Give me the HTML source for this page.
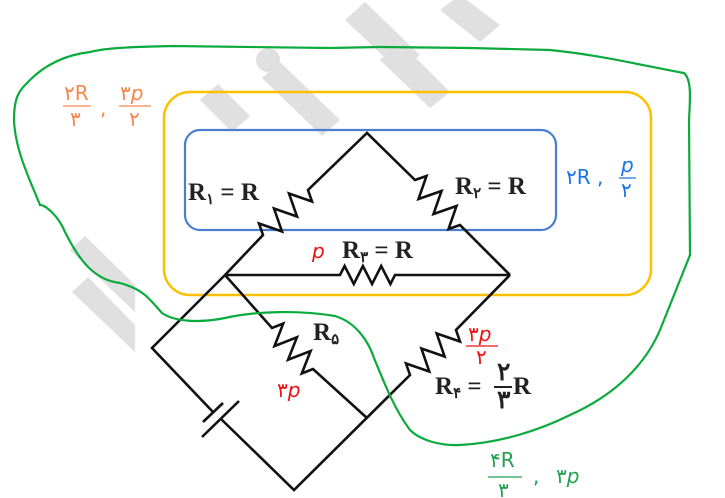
<!DOCTYPE html>
<html><head><meta charset="utf-8"><style>
html,body{margin:0;padding:0;background:#fff;}
svg{display:block;}
.c{font-family:"Liberation Serif",serif;font-weight:bold;font-size:25px;fill:#222;}
.h{font-family:"DejaVu Sans","Liberation Sans",sans-serif;font-size:20px;}
</style></head><body>
<svg width="725" height="498" viewBox="0 0 725 498" xmlns="http://www.w3.org/2000/svg">
<!-- watermark -->
<g fill="#e0e0e0">
<polygon points="262,78 280,62 340,120 322,136"/>
<circle cx="268" cy="60" r="12"/>
<polygon points="345,20 365,2 420,55 400,72"/>
<polygon points="380,60 400,42 450,92 430,108"/>
<polygon points="440,10 460,-5 500,25 480,42"/>
<polygon points="200,100 218,84 250,116 232,132"/>
<polygon points="70,250 85,236 135,285 135,312"/>
<polygon points="72,292 88,277 135,325 135,352"/>
</g>
<!-- boxes -->
<rect x="164" y="92" width="487" height="203" rx="26" fill="none" stroke="#fdbf00" stroke-width="2.5"/>
<rect x="185" y="130" width="371" height="100" rx="15" fill="none" stroke="#4a7fd0" stroke-width="2.2"/>
<!-- circuit -->
<g fill="none" stroke="#111" stroke-width="2.6" stroke-linejoin="miter">
<polyline points="225,275 263,235 259,223.5 282,231.5 274,208.5 297,216.5 289,193.5 312,201.5 308,190 367,133 415,180 426.5,176 418.5,199 441.5,191 433.5,214 456.5,206 448.5,229 460,225 510,275"/>
<polyline points="225,275 340,275 344.6,266 353.8,284 362.9,266 372.1,284 381.2,266 390.4,284 395,275 510,275"/>
<polyline points="225,275 272,328 283.2,323.6 274.5,346.1 296.9,337.3 288.1,359.7 310.6,351 301.8,373.4 313,369 367,418"/>
<polyline points="510,275 456,330 460,341.5 436.7,333.5 444.6,356.5 421.4,348.5 429.3,371.5 406,363.5 410,375 294,490 221,419"/>
<polyline points="225,275 152,348 213,412"/>
<line x1="203" y1="422" x2="223" y2="403"/>
<line x1="202" y1="437" x2="239" y2="401"/>
</g>
<!-- circuit labels -->
<text class="c" x="188" y="200">R<tspan font-size="15" dy="4">۱</tspan><tspan dy="-4"> = R</tspan></text>
<text class="c" x="455" y="194">R<tspan font-size="15" dy="4">۲</tspan><tspan dy="-4"> = R</tspan></text>
<text class="c" x="342" y="258">R<tspan font-size="15" dy="4">۳</tspan><tspan dy="-4"> = R</tspan></text>
<text class="c" x="313" y="340">R<tspan font-size="15" dy="4">۵</tspan></text>
<text class="c" x="435" y="394">R<tspan font-size="15" dy="4">۴</tspan><tspan dy="-4"> =</tspan></text>
<text class="c" x="497" y="380" font-size="18">۲</text>
<line x1="494" y1="387" x2="512" y2="387" stroke="#222" stroke-width="2"/>
<text class="c" x="497" y="408" font-size="18">۳</text>
<text class="c" x="513" y="394">R</text>
<!-- red -->
<text class="h" x="312" y="258" fill="#e11" font-style="italic">p</text>
<text class="h" x="277" y="397" fill="#e11">۳<tspan font-style="italic">p</tspan></text>
<text class="h" x="468" y="341" fill="#e11" font-size="18">۳<tspan font-style="italic">p</tspan></text>
<line x1="466" y1="346" x2="498" y2="346" stroke="#e11" stroke-width="1.3"/>
<text class="h" x="476" y="364" fill="#e11" font-size="17">۲</text>
<!-- orange -->
<text class="h" x="64" y="100" fill="#f4874b" font-size="18">۲R</text>
<line x1="63" y1="106" x2="91" y2="106" stroke="#f4874b" stroke-width="1.3"/>
<text class="h" x="70" y="126" fill="#f4874b" font-size="17">۳</text>
<text class="h" x="100" y="115" fill="#f4874b" font-size="18">,</text>
<text class="h" x="120" y="100" fill="#f4874b" font-size="18">۳<tspan font-style="italic">p</tspan></text>
<line x1="119" y1="106" x2="151" y2="106" stroke="#f4874b" stroke-width="1.3"/>
<text class="h" x="129" y="126" fill="#f4874b" font-size="17">۲</text>
<!-- blue -->
<text class="h" x="566" y="184" fill="#1a73e8">۲R ,</text>
<text class="h" x="621" y="172" fill="#1a73e8" font-size="18" font-style="italic">p</text>
<line x1="619" y1="178" x2="636" y2="178" stroke="#1a73e8" stroke-width="1.3"/>
<text class="h" x="621" y="197" fill="#1a73e8" font-size="17">۲</text>
<!-- green labels -->
<text class="h" x="490" y="467" fill="#22a050" font-size="19">۴R</text>
<line x1="488" y1="477" x2="522" y2="477" stroke="#22a050" stroke-width="1.3"/>
<text class="h" x="498" y="497" fill="#22a050" font-size="17">۳</text>
<text class="h" x="533" y="483" fill="#22a050">,</text>
<text class="h" x="556" y="483" fill="#22a050">۳<tspan font-style="italic">p</tspan></text>
<!-- green blob -->
<path d="M90,52 C110,47 140,47 172,46 L330,48 L380,47 L470,48 L550,50 C600,55 640,65 684,73 C692,80 690,100 689,120 L690,255 C682,275 672,300 660,330 C645,365 615,395 570,415 C540,430 500,443 460,445 C440,446 420,440 410,430 C395,410 385,385 374,358 C368,340 355,322 335,316 C300,310 255,311 225,318 C200,323 175,322 162,313 C150,300 145,290 120,283 C95,280 80,262 65,232 C58,215 45,205 40,205 C30,180 15,150 14,120 C14,95 20,90 30,80 C45,65 65,55 90,52 Z" fill="none" stroke="#0aaa3c" stroke-width="2.2"/>
</svg>
</body></html>
